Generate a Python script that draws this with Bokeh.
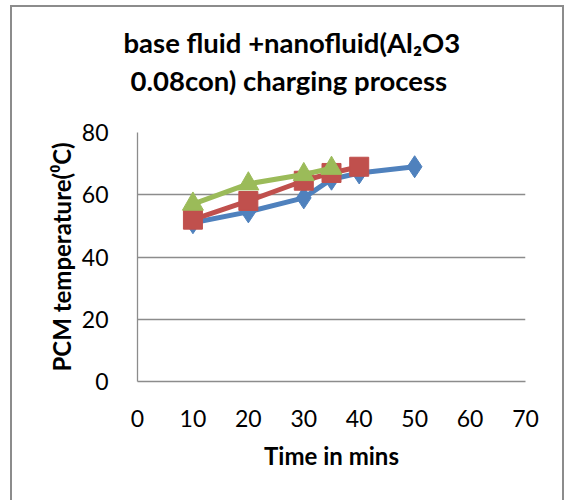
from bokeh.plotting import figure
from bokeh.models import Range1d, FixedTicker, Title
from bokeh.embed import file_html
from bokeh.resources import INLINE

time_blue = [10, 20, 30, 35, 40, 50]
temp_blue = [51, 54.5, 59, 65, 67, 69]
time_red = [10, 20, 30, 35, 40]
temp_red = [52, 58, 64.5, 67, 69]
time_green = [10, 20, 30, 35]
temp_green = [57, 63.5, 66.5, 68.5]
x_ticks = [0, 10, 20, 30, 40, 50, 60, 70]
y_ticks = [0, 20, 40, 60, 80]
title_lines = ["base fluid +nanofluid(Al\u2082O3", "0.08con) charging process"]

FONT = "Lato"
BLUE, RED, GREEN = "#4F81BD", "#C0504D", "#9BBB59"

p = figure(width=554, height=495, output_backend="svg", toolbar_location=None,
           x_range=Range1d(0, 70), y_range=Range1d(0, 80),
           min_border_left=125, min_border_right=41, min_border_top=125, min_border_bottom=121)
p.margin = (5, 0, 0, 10)
p.styles = {"border-left": "2px solid #8c8c8c", "border-top": "2px solid #8c8c8c",
            "border-right": "2px solid #8c8c8c"}

# outermost title line
p.title.text = title_lines[0]
p.title.text_font = FONT
p.title.text_font_size = "27.5px"
p.title.align = "left"
p.title.offset = -14
p.title.standoff = 6
p.title.text_color = "black"
# spacer panel next to the frame, then the second title line above it
p.add_layout(Title(text=" ", text_font_size="1px", standoff=33), "above")
p.add_layout(Title(text=title_lines[1], text_font=FONT, text_font_size="27.5px",
                   align="left", offset=-7, standoff=0, text_color="black"), "above")

p.outline_line_color = None
p.xgrid.grid_line_color = None
p.ygrid.grid_line_color = "#8c8c8c"
p.ygrid.grid_line_width = 1.3
p.ygrid.ticker = FixedTicker(ticks=y_ticks)

for ax in (p.xaxis[0], p.yaxis[0]):
    ax.axis_line_color = "#8c8c8c"
    ax.axis_line_width = 1.3
    ax.major_tick_line_color = None
    ax.minor_tick_line_color = None
    ax.major_label_text_font = FONT
    ax.major_label_text_font_size = "23px"
    ax.major_label_text_color = "black"
    ax.axis_label_text_font = FONT
    ax.axis_label_text_font_size = "24px"
    ax.axis_label_text_font_style = "bold"
    ax.axis_label_text_color = "black"

p.xaxis.ticker = FixedTicker(ticks=x_ticks)
p.yaxis.ticker = FixedTicker(ticks=y_ticks)
p.xaxis.axis_label = "Time in mins"
p.yaxis.axis_label = "PCM temperature(\u2070C)"
p.xaxis.major_label_standoff = 22
p.yaxis.major_label_standoff = 23
p.xaxis.axis_label_standoff = 11
p.yaxis.axis_label_standoff = 3

p.line(time_blue, temp_blue, line_color=BLUE, line_width=5)
p.scatter(time_blue, temp_blue, marker="diamond", size=22, fill_color=BLUE, line_color=BLUE)
p.line(time_red, temp_red, line_color=RED, line_width=5)
p.scatter(time_red, temp_red, marker="square", size=19, fill_color=RED, line_color=RED)
p.line(time_green, temp_green, line_color=GREEN, line_width=5)
p.scatter(time_green, temp_green, marker="triangle", size=21, fill_color=GREEN, line_color=GREEN)

open("out.html", "w").write(file_html(p, INLINE))
